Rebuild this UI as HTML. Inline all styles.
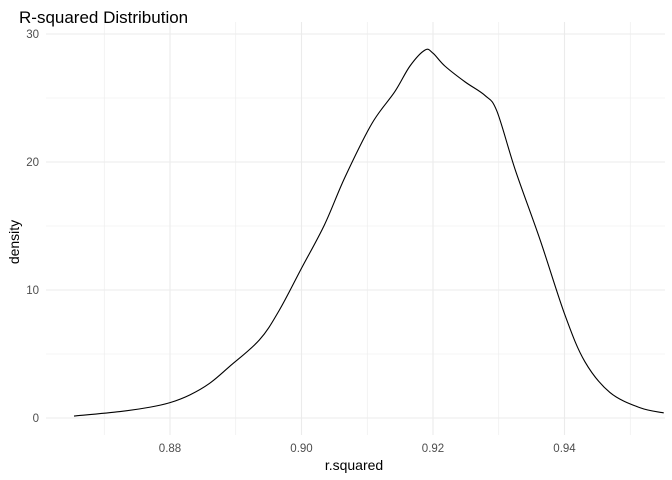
<!DOCTYPE html>
<html><head><meta charset="utf-8"><style>
body{margin:0;background:#fff}
svg{display:block;font-family:"Liberation Sans",Arial,sans-serif}
</style></head><body>
<svg id="chart" width="672" height="480" viewBox="0 0 672 480" xmlns="http://www.w3.org/2000/svg">
<text x="19" y="23" font-size="17" fill="#000">R-squared Distribution</text>
<g id="grid"></g>
<g id="ticks"></g>
<path id="curve" fill="none" stroke="#000" stroke-width="1.1"/>
<text x="354" y="470" font-size="14" text-anchor="middle" fill="#000">r.squared</text>
<text transform="translate(19,242) rotate(-90)" font-size="14" text-anchor="middle" fill="#000">density</text>
</svg>
<script>
const xVals=[0.8654,0.8724,0.877,0.88,0.883,0.886,0.889,0.8936,0.8966,0.90,0.9035,0.9066,0.9107,0.9142,0.9165,0.9188,0.920,0.9218,0.9249,0.9279,0.9297,0.9325,0.9363,0.9401,0.9431,0.9469,0.9515,0.9551];
const densVals=[0.15,0.5,0.85,1.2,1.8,2.7,4.0,6.1,8.4,11.7,15.1,18.8,23,25.5,27.5,28.75,28.5,27.5,26.25,25.2,24,19.4,13.9,8,4.4,2,0.8,0.4];
const xTicks=[0.88,0.90,0.92,0.94];
const xMinor=[0.87,0.89,0.91,0.93,0.95];
const yTicks=[0,10,20,30];
const yMinor=[5,15,25];
const sx=v=>170+(v-0.88)*6575;
const sy=v=>418-v*12.8;
const NS="http://www.w3.org/2000/svg";
const grid=document.getElementById('grid'),ticks=document.getElementById('ticks');
function line(x1,y1,x2,y2,w,name){const l=document.createElementNS(NS,'line');
l.setAttribute('x1',x1);l.setAttribute('y1',y1);l.setAttribute('x2',x2);l.setAttribute('y2',y2);
l.setAttribute('stroke','#ebebeb');l.setAttribute('stroke-width',w);


grid.appendChild(l);}
yMinor.forEach(v=>line(46,sy(v),665,sy(v),0.6,'y-minor-gridline'));
xMinor.forEach(v=>line(sx(v),22,sx(v),435,0.6,'x-minor-gridline'));
yTicks.forEach(v=>{line(46,sy(v),665,sy(v),1.1,'y-major-gridline');
const t=document.createElementNS(NS,'text');t.setAttribute('x',39);t.setAttribute('y',sy(v)+4);
t.setAttribute('text-anchor','end');t.setAttribute('font-size','11.5');t.setAttribute('fill','#4d4d4d');t.textContent=v;


ticks.appendChild(t);});
xTicks.forEach(v=>{line(sx(v),22,sx(v),435,1.1,'x-major-gridline');
const t=document.createElementNS(NS,'text');t.setAttribute('x',sx(v));t.setAttribute('y',452);
t.setAttribute('text-anchor','middle');t.setAttribute('font-size','11.5');t.setAttribute('fill','#4d4d4d');t.textContent=v.toFixed(2);


ticks.appendChild(t);});
const pts=xVals.map((x,i)=>[sx(x),sy(densVals[i])]);
let d='M'+pts[0][0]+','+pts[0][1];
for(let i=0;i<pts.length-1;i++){const p0=pts[Math.max(0,i-1)],p1=pts[i],p2=pts[i+1],p3=pts[Math.min(pts.length-1,i+2)];
d+=' C'+(p1[0]+(p2[0]-p0[0])/6)+','+(p1[1]+(p2[1]-p0[1])/6)+' '+(p2[0]-(p3[0]-p1[0])/6)+','+(p2[1]-(p3[1]-p1[1])/6)+' '+p2[0]+','+p2[1];}
document.getElementById('curve').setAttribute('d',d);
</script>
</body></html>
